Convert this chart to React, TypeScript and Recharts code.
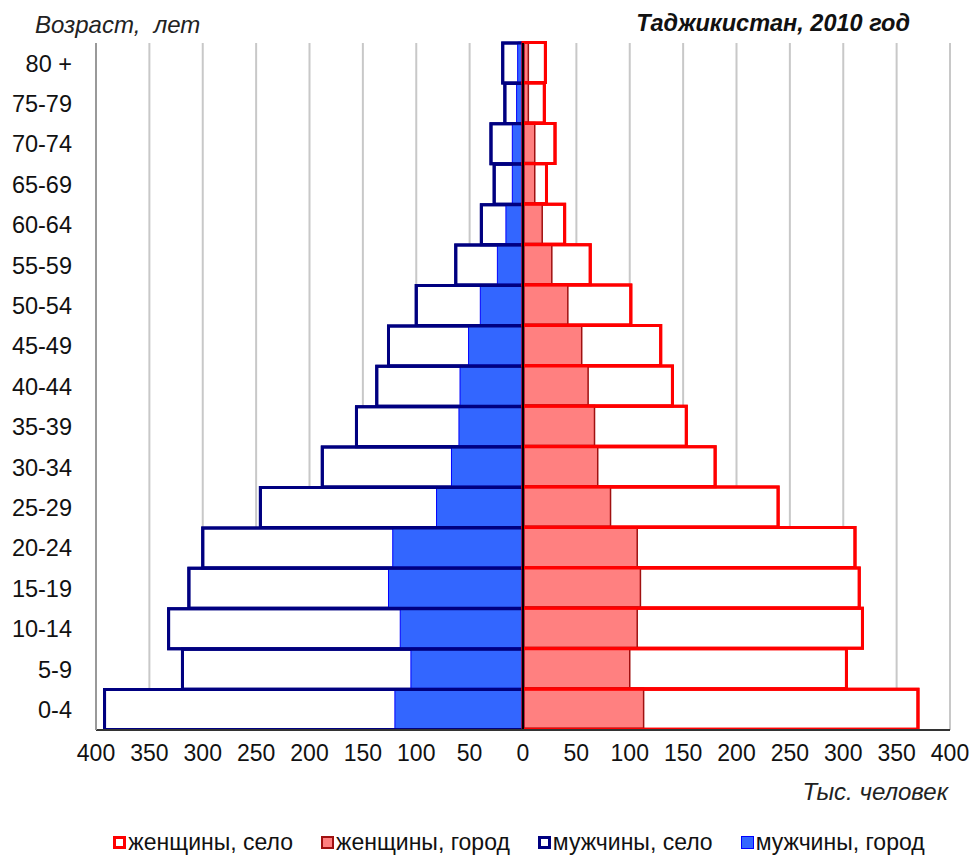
import React from 'react';
import { ComposedChart, Bar, XAxis, YAxis, CartesianGrid, ReferenceLine, Legend } from 'recharts';

const ageGroups = ['80 +', '75-79', '70-74', '65-69', '60-64', '55-59', '50-54', '45-49', '40-44', '35-39', '30-34', '25-29', '20-24', '15-19', '10-14', '5-9', '0-4'];
const maleRural = [19, 17, 30, 27, 39, 63, 100, 126, 137, 156, 188, 246, 300, 313, 332, 319, 392];
const maleUrban = [5, 6, 10, 10, 16, 24, 40, 51, 59, 60, 67, 81, 122, 126, 115, 105, 120];
const femaleRural = [21, 20, 30, 22, 39, 63, 101, 129, 140, 153, 180, 239, 311, 315, 318, 303, 370];
const femaleUrban = [5, 5, 11, 11, 18, 27, 42, 55, 61, 67, 70, 82, 107, 110, 107, 100, 113];
const xTicks = [-400, -350, -300, -250, -200, -150, -100, -50, 0, 50, 100, 150, 200, 250, 300, 350, 400];

const data = ageGroups.map((age, i) => ({
  age,
  maleRural: -maleRural[i],
  maleUrban: -maleUrban[i],
  femaleRural: femaleRural[i],
  femaleUrban: femaleUrban[i],
}));

const legendItems = [
  { label: 'женщины, село', fill: '#ffffff', stroke: '#ff0000', sw: 3 },
  { label: 'женщины, город', fill: '#ff8080', stroke: '#a01010', sw: 2 },
  { label: 'мужчины, село', fill: '#ffffff', stroke: '#000080', sw: 3 },
  { label: 'мужчины, город', fill: '#3366ff', stroke: '#0000ff', sw: 1 },
];

const font = '"Liberation Sans", Arial, sans-serif';

const LegendContent = () => (
  <div style={{ display: 'flex', justifyContent: 'center', alignItems: 'center', height: 26, fontFamily: font, fontSize: 23, color: '#111', paddingLeft: 66 }}>
    {legendItems.map((it, i) => (
      <div key={i} style={{ display: 'flex', alignItems: 'center', marginLeft: i === 0 ? 0 : 28 }}>
        <span style={{ display: 'inline-block', width: 11 - it.sw * 2 + 2, height: 11 - it.sw * 2 + 2, background: it.fill, border: `${it.sw}px solid ${it.stroke}`, marginRight: 2 }} />
        <span>{it.label}</span>
      </div>
    ))}
  </div>
);

export default function App() {
  return (
    <div style={{ position: 'absolute', left: 0, top: 0, width: 972, height: 855, background: '#fff', fontFamily: font }}>
      <div style={{ position: 'absolute', left: 35, top: 11, fontSize: 24, fontStyle: 'italic', color: '#222', whiteSpace: 'nowrap' }}>Возраст,&nbsp; лет</div>
      <div style={{ position: 'absolute', right: 62, top: 10, fontSize: 23.5, fontStyle: 'italic', fontWeight: 'bold', color: '#111', whiteSpace: 'nowrap' }}>Таджикистан, 2010 год</div>
      <div style={{ position: 'absolute', right: 24, top: 778, fontSize: 24, fontStyle: 'italic', color: '#222', whiteSpace: 'nowrap' }}>Тыс. человек</div>
      <ComposedChart
        width={972}
        height={855}
        data={data}
        layout="vertical"
        margin={{ top: 43, right: 22, bottom: 59, left: 0 }}
        barCategoryGap={0}
        barGap="-100%"
        style={{ fontFamily: font }}
      >
        <CartesianGrid horizontal={false} stroke="#c8c8c8" strokeWidth={2} />
        <XAxis
          type="number"
          domain={[-400, 400]}
          ticks={xTicks}
          interval={0}
          tickFormatter={(v: number) => String(Math.abs(v))}
          tick={{ fill: '#111', fontSize: 23 }}
          tickLine={false}
          tickMargin={9}
          axisLine={{ stroke: '#333', strokeWidth: 2 }}
          height={40}
        />
        <XAxis
          xAxisId="top"
          orientation="top"
          type="number"
          domain={[-400, 400]}
          ticks={xTicks}
          tick={false}
          tickLine={false}
          axisLine={{ stroke: '#999', strokeWidth: 2 }}
          height={0}
        />
        <YAxis
          type="category"
          dataKey="age"
          width={96}
          interval={0}
          tickLine={false}
          tickSize={0}
          tickMargin={24}
          tick={{ fill: '#111', fontSize: 23.5 }}
          axisLine={{ stroke: '#999', strokeWidth: 2 }}
        />
        <Legend verticalAlign="bottom" content={() => <LegendContent />} wrapperStyle={{ top: 829, left: 0, width: 972, height: 26 }} />
        <Bar dataKey="maleRural" name="мужчины, село" fill="#ffffff" stroke="#000080" strokeWidth={3} isAnimationActive={false} />
        <Bar dataKey="femaleRural" name="женщины, село" fill="#ffffff" stroke="#ff0000" strokeWidth={3} isAnimationActive={false} />
        <Bar dataKey="maleUrban" name="мужчины, город" fill="#3366ff" stroke="#0000ff" strokeWidth={1} isAnimationActive={false} />
        <Bar dataKey="femaleUrban" name="женщины, город" fill="#ff8080" stroke="#a01010" strokeWidth={1.5} isAnimationActive={false} />
        <Bar dataKey="maleRural" name="мужчины, село контур" fill="none" stroke="#000080" strokeWidth={3} legendType="none" isAnimationActive={false} />
        <Bar dataKey="femaleRural" name="женщины, село контур" fill="none" stroke="#ff0000" strokeWidth={3} legendType="none" isAnimationActive={false} />
        <ReferenceLine x={0} stroke="#000" strokeWidth={2} />
      </ComposedChart>
    </div>
  );
}
